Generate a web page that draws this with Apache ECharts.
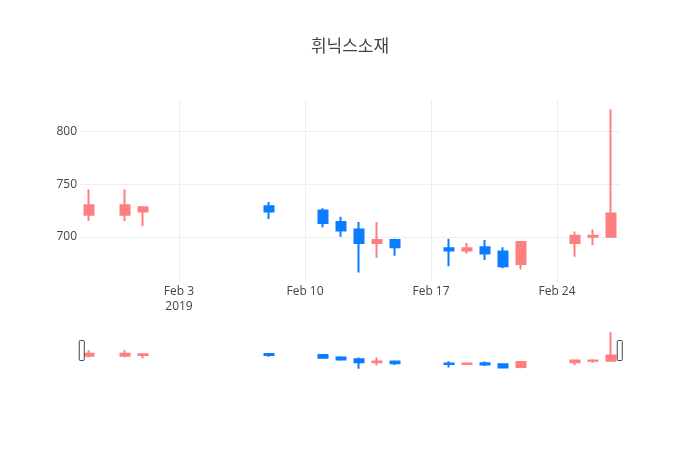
<!DOCTYPE html>
<html>
<head>
<meta charset="utf-8">
<script src="https://cdn.jsdelivr.net/npm/echarts@6/dist/echarts.min.js"></script>
<style>
html,body{margin:0;padding:0;background:#fff;}
#chart{width:700px;height:450px;}
</style>
</head>
<body>
<div id="chart"></div>
<script>
var titleText = '휘닉스소재';
var dates = ['2019-01-29','2019-01-31','2019-02-01','2019-02-08','2019-02-11','2019-02-12','2019-02-13','2019-02-14','2019-02-15','2019-02-18','2019-02-19','2019-02-20','2019-02-21','2019-02-22','2019-02-25','2019-02-26','2019-02-27'];
var openVals  = [721,721,724,729,725,714,707,694,697,689,687,690,686,674,694,700,700];
var closeVals = [730,730,728,724,713,706,694,697,690,687,689,684,672,695,701,701,722];
var lowVals   = [715,715,710,717,709,700,666,680,682,672,684,678,670,669,681,692,700];
var highVals  = [745,745,728,733,727,719,714,714,698,698,694,697,690,695,705,707,821];
var xTickDates = ['2019-02-03','2019-02-10','2019-02-17','2019-02-24'];
var xTickLabels = ['Feb 3\n2019','Feb 10','Feb 17','Feb 24'];
var yTickValues = [700,750,800];

var DAY = 86400000;
function ts(s){ var p = s.split('-'); return Date.UTC(+p[0], +p[1]-1, +p[2]); }
var xMin = ts(dates[0]) - DAY/2;
var xMax = ts(dates[dates.length-1]) + DAY/2;
var xTickTimes = xTickDates.map(ts);

var candleData = dates.map(function(d,i){ return [ts(d), openVals[i], closeVals[i], lowVals[i], highVals[i]]; });

var UP = '#ff7f7f', DOWN = '#0a7cff';
var font = '"Open Sans", "Noto Sans CJK KR", sans-serif';

var chart = echarts.init(document.getElementById('chart'), null, {renderer:'canvas'});
var candleStyle = {color: UP, color0: DOWN, borderColor: UP, borderColor0: DOWN, borderWidth: 2};

chart.setOption({
  animation: false,
  backgroundColor: '#fff',
  title: {
    text: titleText, left: 'center', top: 34,
    textStyle: {fontFamily: font, fontSize: 17, fontWeight: 'normal', color: '#444'}
  },
  grid: [
    {left: 80, right: 80, top: 100, height: 182},
    {left: 80, right: 80, top: 330, height: 41}
  ],
  xAxis: [
    {
      type: 'value', gridIndex: 0, min: xMin, max: xMax,
      axisLine: {show: false}, axisTick: {show: false, customValues: xTickTimes},
      splitLine: {show: true, lineStyle: {color: '#eee', width: 1}},
      axisLabel: {
        customValues: xTickTimes, margin: 2, color: '#444', fontSize: 12, fontFamily: font, lineHeight: 15,
        hideOverlap: false,
        formatter: function(v){ var k = xTickTimes.indexOf(v); return k >= 0 ? xTickLabels[k] : ''; }
      }
    },
    {
      type: 'value', gridIndex: 1, min: xMin, max: xMax, show: false, splitLine: {show: false}
    }
  ],
  yAxis: [
    {
      type: 'value', gridIndex: 0, min: 657, max: 830,
      axisLine: {show: false}, axisTick: {show: false, customValues: yTickValues},
      splitLine: {show: true, lineStyle: {color: '#eee', width: 1}},
      axisLabel: {customValues: yTickValues, margin: 3, color: '#444', fontSize: 12, fontFamily: font}
    },
    {
      type: 'value', gridIndex: 1, min: 657, max: 830, show: false, splitLine: {show: false}
    }
  ],
  dataZoom: [{
    type: 'slider', xAxisIndex: [0,1], filterMode: 'none', start: 0, end: 100,
    left: 80, right: 80, top: 330, height: 41,
    showDataShadow: false, showDetail: false, brushSelect: false,
    backgroundColor: 'rgba(0,0,0,0)', borderColor: 'rgba(0,0,0,0)', fillerColor: 'rgba(0,0,0,0)',
    dataBackground: {lineStyle: {opacity: 0}, areaStyle: {opacity: 0}},
    selectedDataBackground: {lineStyle: {opacity: 0}, areaStyle: {opacity: 0}},
    moveHandleSize: 0, moveHandleStyle: {opacity: 0},
    handleIcon: 'path://M1,0 h3 a1,1 0 0 1 1,1 v18 a1,1 0 0 1 -1,1 h-3 a1,1 0 0 1 -1,-1 v-18 a1,1 0 0 1 1,-1 z',
    handleSize: 20,
    handleStyle: {color: '#fff', borderColor: '#444', borderWidth: 1},
    emphasis: {handleStyle: {color: '#fff', borderColor: '#444', borderWidth: 1}}
  }],
  series: [
    {type: 'candlestick', xAxisIndex: 0, yAxisIndex: 0, data: candleData, barWidth: 9, itemStyle: candleStyle, silent: true},
    {type: 'candlestick', xAxisIndex: 1, yAxisIndex: 1, data: candleData, barWidth: 9, itemStyle: candleStyle, silent: true}
  ]
});
</script>
</body>
</html>
